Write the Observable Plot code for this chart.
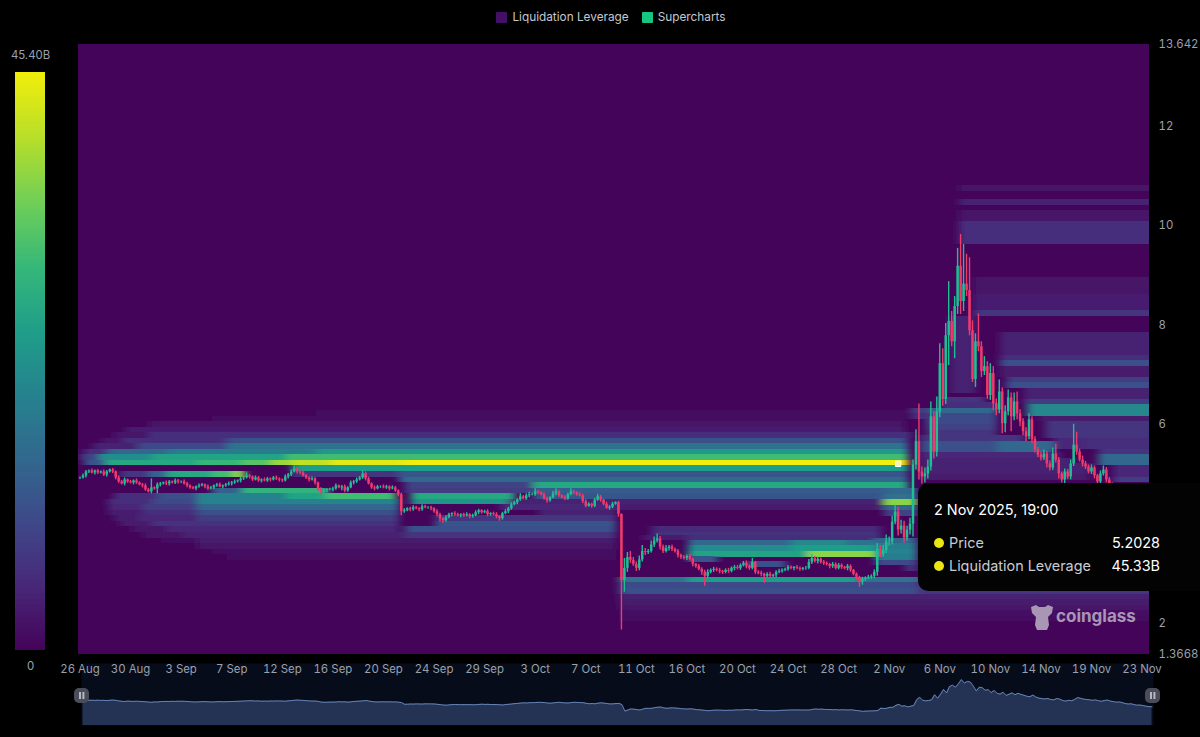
<!DOCTYPE html>
<html><head><meta charset="utf-8">
<script src="https://cdn.jsdelivr.net/npm/d3@7"></script>
<script src="https://cdn.jsdelivr.net/npm/@observablehq/plot@0.6"></script>
<style>
html,body{margin:0;background:#000;font-family:Inter,"Noto Sans",sans-serif}
#page{position:relative;width:1200px;height:737px;overflow:hidden;background:#000}
#page>svg,#page>div{position:absolute}
#legend{left:0;right:0;top:8px;height:18px;display:flex;justify-content:center;gap:13px;font-size:11.8px;color:#c4c8d0;line-height:16px;padding-left:22px}
#legend span{display:flex;align-items:center;gap:5px}
#legend i{display:inline-block;width:11px;height:11px;border-radius:1px}
#tip{left:918px;top:483px;width:282px;height:108px;background:#030304;border-radius:10px 0 0 10px;color:#fff;font-size:14.4px}
#tip div{position:absolute;white-space:nowrap}
#tip b{position:absolute;width:10px;height:10px;border-radius:50%;background:#e9e614;left:16px}
#mark{left:1030px;top:602px;height:30px;width:112px;color:#a896b4;font-weight:700;font-size:17px;line-height:28px}
#mark span{position:absolute;left:26px;top:0}
#mark svg{position:absolute;left:0;top:1px}
.hd{width:15px;height:15px;background:#4b4e5a;border-radius:5px;top:688px}
.hd:after{content:"";position:absolute;left:5px;top:4px;width:1.6px;height:7px;background:#b5b8c0;box-shadow:3.4px 0 #b5b8c0}
</style></head><body>
<svg width="0" height="0" style="position:absolute"><filter id="hb" x="-5%" y="-5%" width="110%" height="110%"><feGaussianBlur stdDeviation="4 0.7"/></filter></svg>
<div id="page">
<div id="legend"><span><i style="background:#440f66"></i>Liquidation Leverage</span><span><i style="background:#16c784"></i>Supercharts</span></div>
</div>
<script>
// ---- price candles, 6 h apart, first at 26 Aug 2025 01:00 ----
const closes = [
4.92,4.96,5.04,5.06,5.02,5.06,5.02,5.04,4.98,5.04,5.08,5.04,4.92,4.84,4.80,4.88,4.84,
4.82,4.86,4.82,4.78,4.76,4.68,4.64,4.72,4.70,4.78,4.80,4.82,4.80,4.84,4.82,4.86,4.84,
4.84,4.80,4.76,4.72,4.70,4.74,4.76,4.78,4.74,4.70,4.72,4.76,4.78,4.74,4.76,4.78,4.80,
4.82,4.84,4.86,4.90,4.92,4.96,4.94,4.88,4.92,4.86,4.88,4.86,4.90,4.88,4.92,4.90,4.88,
4.86,4.94,4.98,5.04,5.10,5.04,5.02,4.96,4.92,4.88,4.90,4.82,4.68,4.64,4.66,4.68,4.68,
4.70,4.76,4.72,4.74,4.66,4.72,4.82,4.84,4.88,4.92,5.00,4.90,4.80,4.72,4.70,4.74,4.74,
4.72,4.74,4.70,4.72,4.66,4.58,4.24,4.26,4.30,4.28,4.32,4.30,4.28,4.34,4.32,4.32,4.30,
4.24,4.18,4.10,4.06,4.12,4.18,4.20,4.18,4.16,4.18,4.16,4.18,4.14,4.16,4.22,4.26,4.22,
4.24,4.18,4.20,4.18,4.14,4.10,4.20,4.24,4.30,4.38,4.42,4.48,4.54,4.50,4.56,4.58,4.58,
4.64,4.62,4.58,4.50,4.46,4.52,4.60,4.64,4.56,4.52,4.50,4.58,4.64,4.62,4.58,4.56,4.44,
4.35,4.39,4.35,4.47,4.54,4.47,4.39,4.31,4.33,4.39,4.42,4.19,2.86,3.10,3.32,3.26,3.18,
3.10,3.27,3.44,3.42,3.44,3.57,3.65,3.69,3.53,3.44,3.50,3.53,3.48,3.44,3.36,3.32,3.30,
3.34,3.28,3.18,3.14,3.08,3.02,2.94,3.02,3.06,3.08,3.06,3.04,3.02,3.06,3.04,3.10,3.12,
3.10,3.16,3.20,3.14,3.10,3.22,3.02,3.00,2.98,2.94,2.98,2.94,2.96,3.02,3.04,3.06,3.08,
3.12,3.10,3.12,3.10,3.08,3.10,3.10,3.22,3.30,3.24,3.28,3.22,3.20,3.18,3.14,3.18,3.10,
3.16,3.12,3.10,3.14,3.06,2.98,2.92,2.82,2.88,2.90,2.92,2.94,3.02,3.48,3.38,3.46,3.63,
3.63,4.03,4.23,3.87,3.95,3.71,3.87,3.99,5.18,5.65,5.04,4.94,5.00,5.14,6.15,5.44,6.25,
7.22,6.50,7.78,8.07,7.66,8.37,9.18,8.47,8.82,8.69,7.88,6.90,7.66,7.56,7.06,7.16,6.58,
7.02,6.41,6.29,6.65,6.01,6.25,6.53,6.15,6.45,6.21,6.05,5.85,5.75,6.09,5.69,5.48,5.38,
5.32,5.40,5.20,5.12,5.40,5.28,5.00,4.88,5.04,4.94,5.20,5.58,5.44,5.28,5.20,5.14,5.04,
5.12,4.96,4.84,5.00,5.08,4.88,4.78,4.66,4.72,4.58,4.40,4.30,4.34,4.18,4.06,4.10,3.98,
3.86,3.78,3.74];
const wickUp = [
.02,.04,.03,.02,.04,.02,.03,.02,.04,.03,.02,.03,.02,.04,.03,.04,.02,
.03,.02,.04,.02,.03,.04,.03,.18,.02,.04,.03,.02,.04,.03,.02,.04,.03,
.02,.04,.03,.02,.03,.02,.04,.03,.02,.04,.03,.02,.03,.04,.02,.03,.04,
.03,.04,.02,.03,.04,.06,.03,.02,.04,.03,.02,.04,.03,.02,.03,.04,.02,
.02,.04,.03,.04,.06,.03,.02,.04,.03,.02,.04,.03,.02,.04,.03,.02,.03,
.03,.04,.02,.03,.04,.02,.04,.03,.04,.03,.06,.04,.03,.02,.04,.03,.02,
.04,.03,.02,.04,.03,.02,.03,.04,.02,.03,.04,.03,.02,.04,.03,.02,.03,
.02,.04,.03,.02,.04,.03,.02,.04,.03,.02,.03,.04,.02,.03,.04,.03,.02,
.03,.04,.02,.03,.04,.02,.03,.04,.03,.04,.03,.02,.06,.03,.04,.05,.03,
.06,.03,.02,.04,.03,.02,.05,.06,.03,.02,.04,.03,.06,.03,.02,.04,.03,
.04,.03,.02,.04,.05,.03,.02,.04,.03,.04,.02,.03,.00,.20,.10,.12,.06,
.05,.08,.12,.06,.04,.08,.08,.10,.05,.04,.06,.03,.04,.03,.04,.03,.04,
.03,.04,.03,.02,.04,.03,.04,.05,.03,.04,.03,.04,.02,.03,.04,.03,.04,
.04,.03,.04,.05,.03,.08,.02,.03,.04,.02,.03,.04,.02,.03,.04,.03,.02,
.04,.03,.02,.04,.03,.02,.04,.06,.08,.04,.05,.03,.04,.03,.02,.04,.03,
.04,.03,.02,.04,.03,.02,.03,.02,.04,.03,.04,.03,.05,.12,.08,.10,.14,
.10,.12,.14,.10,.12,.10,.08,.12,.10,.24,.76,.10,.12,.14,.30,.10,.30,
.40,.30,.25,.80,.20,.20,.36,.64,.80,.60,.66,.20,.16,.56,.10,.20,.10,
.20,.14,.10,.24,.08,.12,.16,.10,.18,.20,.08,.06,.08,.12,.06,.06,.05,
.06,.08,.05,.06,.12,.20,.05,.04,.06,.05,.08,.42,.26,.06,.08,.05,.04,
.06,.04,.03,.06,.08,.05,.05,.04,.06,.05,.04,.03,.05,.04,.03,.05,.04,
.03,.04,.03];
const wickDown = [
.03,.02,.04,.03,.02,.04,.03,.02,.03,.04,.02,.03,.04,.03,.02,.04,.03,
.02,.04,.03,.02,.04,.03,.02,.04,.03,.10,.04,.02,.03,.04,.02,.03,.04,
.03,.02,.04,.03,.02,.04,.03,.02,.04,.03,.02,.04,.03,.02,.04,.03,.02,
.04,.03,.02,.04,.03,.02,.04,.03,.02,.03,.04,.02,.03,.04,.02,.03,.04,
.03,.02,.04,.03,.02,.04,.03,.02,.03,.04,.02,.04,.03,.06,.03,.04,.02,
.04,.03,.02,.06,.04,.03,.02,.04,.03,.02,.03,.04,.02,.03,.04,.02,.03,
.02,.03,.04,.02,.03,.04,.08,.03,.02,.04,.03,.02,.04,.03,.02,.03,.04,
.03,.04,.06,.05,.03,.02,.04,.03,.02,.04,.03,.02,.04,.03,.02,.04,.03,
.02,.04,.03,.02,.04,.05,.03,.02,.04,.03,.02,.04,.03,.02,.03,.04,.02,
.03,.04,.02,.03,.05,.03,.02,.04,.03,.02,.04,.03,.02,.04,.03,.02,.04,
.03,.02,.04,.03,.02,.04,.03,.02,.04,.03,.02,.06,1.00,.24,.08,.06,.04,
.06,.05,.04,.06,.04,.03,.05,.04,.06,.04,.03,.05,.04,.03,.05,.04,.03,
.04,.03,.05,.04,.03,.06,.20,.04,.03,.04,.03,.05,.04,.03,.04,.03,.05,
.03,.04,.03,.05,.04,.03,.04,.03,.05,.14,.03,.04,.03,.05,.03,.04,.03,
.04,.03,.05,.03,.04,.03,.04,.03,.04,.03,.05,.03,.04,.03,.05,.04,.03,
.03,.04,.03,.05,.04,.03,.05,.10,.06,.04,.03,.04,.05,.08,.06,.05,.06,
.08,.06,.05,.12,.08,.10,.06,.10,.26,.10,.16,.14,.12,.10,.08,.14,.10,
.12,.14,.10,.60,.10,.34,.16,.26,.20,.12,.10,.06,.16,.10,.12,.08,.08,
.10,.14,.12,.08,.20,.18,.08,.30,.08,.12,.10,.08,.10,.06,.08,.06,.05,
.06,.05,.08,.06,.05,.06,.10,.06,.08,.05,.06,.05,.06,.04,.06,.05,.04,
.05,.06,.08,.05,.04,.06,.05,.04,.06,.05,.04,.03,.05,.04,.03,.05,.04,
.03,.04,.03];

// ---- liquidation heat: [price bin, from candle, to candle, value in B, bins tall] ----
const heatBands = [
[43,80,278,.6],[42,45,278,1.2],
[41,24,278,2],[40,16,278,3.5],[39,12,24,2.5],[39,24,280,6],
[38,8,15,2.5],[38,15,50,6],[38,50,279,11],
[37,5,20,4],[37,20,50,10],[37,50,279,17],
[36,2,10,6],[36,10,30,15],[36,30,80,19],[36,80,279,24],
[35,1,7,9],[35,7,25,22],[35,25,70,26],[35,70,279,31],
[34,2,9,12],[34,9,40,27],[34,40,55,30],[34,55,65,33],[34,65,72,38],[34,72,85,41],[34,85,110,44],[34,110,279,45.4],
[33,72,279,25],
[32,14,24,7],[32,24,30,14],[32,30,45,27],[32,45,52,31],[32,52,56,37],[32,72,108,7],[32,108,279,12],
[31,108,279,15],
[30,110,153,9],[30,153,279,27],
[29,45,55,14],[29,55,84,29],[29,110,153,8],[29,153,279,13],
[28,12,27,6],[28,27,40,11],[28,40,70,20],[28,70,83,26],[28,83,107,31],[28,112,147,27],[28,153,279,12],
[27,10,25,6],[27,25,40,10],[27,40,108,20],[27,112,145,23],[27,145,279,4],
[26,10,22,5],[26,22,40,8],[26,40,108,15],[26,142,181,5],[26,181,279,3],
[25,10,22,3.5],[25,22,40,6],[25,40,108,11],[25,155,181,4],
[24,12,20,3],[24,20,40,5],[24,40,108,8],[24,120,181,7],
[23,14,25,3],[23,25,108,6.5],[23,120,181,12],
[22,18,30,2.5],[22,30,108,5],[22,110,181,11],[22,193,270,5.5],
[21,22,35,2],[21,35,110,4],[21,110,181,7],[21,193,270,6.5],
[20,28,40,1.5],[20,40,181,3],[19,40,181,2],[18,45,181,1.5],[17,50,181,1],[20.5,190,205,3.5],[20.5,205,268,6],
[19.5,205,240,15],[19.5,240,258,21],[19.5,258,268,17],
[18.6,205,240,22],[18.6,240,268,25],
[17.5,205,245,26],[17.5,245,268,37],
[16.6,205,215,12],[15.7,225,238,11],
[12.8,182,205,17],[12.8,205,262,25],[12.8,262,282,17],[12.8,282,372,11],
[11.9,182,282,10],[11.9,282,372,6],
[10.9,182,282,11],[10.9,282,372,7],
[9.9,182,372,4],[8.9,182,372,3],[7.9,182,372,2],[6.9,182,372,1.5],[5.9,182,372,1],
[28.9,271,282,15],[27.9,271,282,17],[26.9,271,282,37],[25.9,271,282,15],[24.9,271,282,9],
[20,268,282,15],[19,268,282,19],[18,268,282,20],[17,268,282,19],[16,268,282,10],[15,278,282,7],
[47,293,302,4,14],
[45.4,290,305,7],[44.4,290,309,6],[43.4,280,287,8],[43.4,287,309,15],[42.4,280,287,6],[42.4,287,309,10],
[41.4,285,309,10],[40.4,285,309,9],[39.4,285,309,7],
[38.4,283,318,7],[37.4,283,309,11],[37.4,309,328,15],[36.4,283,309,11],[36.4,309,328,15],
[35.4,283,330,5],[34.4,283,335,4],[32.4,283,340,4,2],[31.4,283,340,3],
[83.5,296,372,2],[81,296,372,4],[78,296,372,2.5,2],[74,296,372,6,4],
[65,301,372,2,3],[62,301,372,3.5,3],[61,301,372,7],
[54,310,372,4,4],[53,310,372,6],[52,310,372,11],[50,310,372,3,2],
[49,312,372,8],[48,312,372,11],[46,318,372,4,2],[45,318,372,8],
[43,319,372,21,2],[42,323,372,3],[39,325,372,7,3],
[37,328,338,5,2],[37,338,372,6,2],[36,343,372,7],[34,343,372,15,2],
[32,348,372,5,2],[31,348,372,8]
];

// ---- scales' data ----
const priceRange = [1.3668, 13.642];
const priceTicks = [1.3668, 2, 6, 8, 10, 12, 13.642];
const binSize = 0.1116;
const colorStops = [0, 5, 10, 15, 20, 25, 30, 35, 40, 45.4];
const colorRange = ["#44045a","#482878","#3e4989","#31688e","#26828e","#1f9e89","#35b779","#6ece58","#b5de2b","#f2ee0a"];
const colorTop = 45.4;
const hover = {index: 275, price: 5.2028, value: "45.33B", label: "2 Nov 2025, 19:00"};
const tickEvery = 17;

const sixHours = 6 * 3600e3, t0 = Date.UTC(2025, 7, 26, 1);
const at = i => new Date(t0 + i * sixHours);
const candles = closes.map((c, i) => {
  const o = i ? closes[i - 1] : c;
  return {t: at(i), open: o, close: c, up: c >= o,
          high: Math.max(o, c) + wickUp[i], low: Math.min(o, c) - wickDown[i]};
});
const cells = heatBands.map(([bin, from, to, value, tall = 1]) => ({
  p1: priceRange[0] + bin * binSize, p2: priceRange[0] + (bin + tall) * binSize,
  t1: at(from - .5), t2: at(to - .5), value}));
const xDomain = [at(-.5), at(359.5)];
const color = {type: "linear", domain: colorStops, range: colorRange, interpolate: "rgb"};
const axisColor = "#9aa1ac";
const green = "#1fbf94", red = "#ef3a6c";
const textStyle = {background: "transparent", fontFamily: "Inter,'Noto Sans',sans-serif", fontSize: "11.4px"};

const main = Plot.plot({
  width: 1200, height: 650, marginTop: 14, marginBottom: 26, marginLeft: 78, marginRight: 51,
  style: textStyle,
  x: {type: "utc", domain: xDomain},
  y: {domain: priceRange},
  color,
  marks: [
    Plot.rect([{}], {x1: xDomain[0], x2: xDomain[1], y1: priceRange[0], y2: priceRange[1], fill: () => 0}),
    Plot.rect(cells, {x1: "t1", x2: "t2", y1: "p1", y2: "p2", fill: "value", shapeRendering: "crispEdges", imageFilter: "url(#hb)", clip: "frame"}),
    Plot.ruleX(candles, {x: "t", y1: "low", y2: "high", stroke: d => d.up ? green : red, strokeWidth: 1.4}),
    Plot.ruleX(candles, {x: "t", y1: "open", y2: "close", stroke: d => d.up ? green : red, strokeWidth: 2.5}),
    Plot.dot([hover], {x: d => at(d.index), y: "price", symbol: "square", r: 3, fill: "#f6f6a8", stroke: "#fff", strokeWidth: 1}),
    Plot.axisX({ticks: closes.map((_, i) => at(i)).filter((_, i) => i % tickEvery === 0), tickSize: 0, tickPadding: 10,
      tickFormat: d3.utcFormat("%-d %b"), fill: axisColor, label: null}),
    Plot.axisY({anchor: "right", ticks: priceTicks, tickSize: 0, tickPadding: 9, textAnchor: "start",
      tickFormat: String, fill: axisColor, label: null})
  ]
});
main.style.left = "0"; main.style.top = "30px";

const levels = d3.range(0, colorTop, 0.2);
const bar = Plot.plot({
  width: 60, height: 650, marginTop: 43, marginBottom: 30, marginLeft: 15, marginRight: 15,
  style: textStyle,
  x: {axis: null, domain: [0, 1]},
  y: {axis: null, domain: [0, colorTop]},
  color,
  marks: [
    Plot.rect(levels, {x1: 0, x2: 1, y1: d => d, y2: d => d + 0.24, fill: d => d, shapeRendering: "crispEdges"}),
    Plot.text([colorTop], {x: .5, y: d => d, text: () => "45.40B", fill: axisColor, dy: -18}),
    Plot.text([0], {x: .5, y: d => d, text: () => "0", fill: axisColor, dy: 16})
  ]
});
bar.style.left = "0"; bar.style.top = "30px";

const mini = Plot.plot({
  width: 1200, height: 66, marginTop: 3, marginBottom: 1, marginLeft: 81, marginRight: 47,
  style: {background: "transparent"},
  x: {type: "utc", domain: xDomain, axis: null},
  y: {domain: [0, 12.4], axis: null},
  marks: [
    Plot.frame({fill: "#070c1a", stroke: null}),
    Plot.areaY(candles, {x: "t", y: "close", fill: "#243354"}),
    Plot.lineY(candles, {x: "t", y: "close", stroke: "#6f8fc4", strokeWidth: 0.9})
  ]
});
mini.style.left = "0"; mini.style.top = "660px";

const page = document.getElementById("page");
page.append(mini, main, bar);

const tip = document.createElement("div");
tip.id = "tip";
tip.innerHTML = `<div style="left:16px;top:18px;line-height:18px">${hover.label}</div>
<b style="top:55px"></b><div style="left:31px;top:51px;line-height:18px;color:#c9ccd2">Price</div><div style="right:40px;top:51px;line-height:18px">${hover.price}</div>
<b style="top:78px"></b><div style="left:31px;top:74px;line-height:18px;color:#c9ccd2">Liquidation Leverage</div><div style="right:40px;top:74px;line-height:18px">${hover.value}</div>`;
page.append(tip);

const mark = document.createElement("div");
mark.id = "mark";
mark.innerHTML = `<svg width="24" height="28" viewBox="0 0 24 28"><path d="M1 4 L6 2 L9 4 L15 4 L18 2 L23 4 L22 10 L18 14 L19 22 L17 27 L7 27 L5 22 L6 14 L2 10 Z" fill="#a896b4"/></svg><span>coinglass</span>`;
page.append(mark);

for (const x of [74, 1145]) {
  const h = document.createElement("div");
  h.className = "hd"; h.style.left = x + "px";
  page.append(h);
}
</script></body></html>
